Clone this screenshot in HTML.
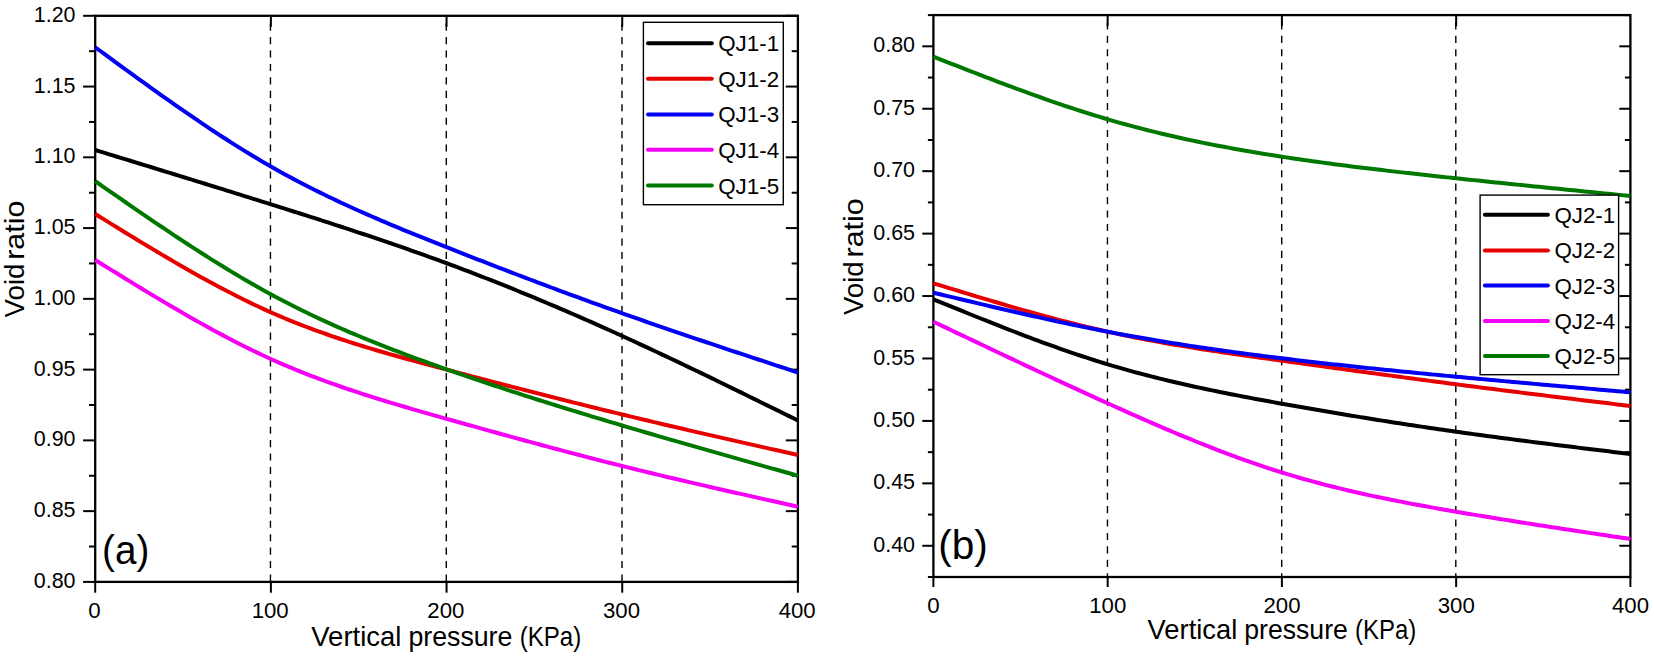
<!DOCTYPE html>
<html lang="en"><head><meta charset="utf-8"><title>Void ratio vs vertical pressure</title>
<style>html,body{margin:0;padding:0;background:#fff;}body{width:1654px;height:660px;overflow:hidden;}svg{display:block;}svg text{font-family:"Liberation Sans", sans-serif;fill:#000;}</style></head><body>
<svg width="1654" height="660" viewBox="0 0 1654 660">
<rect x="0" y="0" width="1654" height="660" fill="#ffffff"/>
<g>
<line x1="270.45" y1="23.6" x2="270.45" y2="581.9" stroke="#000" stroke-width="1.4" stroke-dasharray="7.1 6.335"/>
<line x1="446.3" y1="23.6" x2="446.3" y2="581.9" stroke="#000" stroke-width="1.4" stroke-dasharray="7.1 6.335"/>
<line x1="622" y1="23.6" x2="622" y2="581.9" stroke="#000" stroke-width="1.4" stroke-dasharray="7.1 6.335"/>
<rect x="95.2" y="15.8" width="702.7" height="566.1" fill="none" stroke="#000" stroke-width="2.3"/>
<line x1="83.1" y1="581.9" x2="95.2" y2="581.9" stroke="#000" stroke-width="2"/>
<line x1="785.8" y1="581.9" x2="797.9" y2="581.9" stroke="#000" stroke-width="2"/>
<text x="75.5" y="588" font-size="21.6" text-anchor="end" textLength="41.7" lengthAdjust="spacingAndGlyphs">0.80</text>
<line x1="83.1" y1="511.14" x2="95.2" y2="511.14" stroke="#000" stroke-width="2"/>
<line x1="785.8" y1="511.14" x2="797.9" y2="511.14" stroke="#000" stroke-width="2"/>
<text x="75.5" y="517.24" font-size="21.6" text-anchor="end" textLength="41.7" lengthAdjust="spacingAndGlyphs">0.85</text>
<line x1="83.1" y1="440.38" x2="95.2" y2="440.38" stroke="#000" stroke-width="2"/>
<line x1="785.8" y1="440.38" x2="797.9" y2="440.38" stroke="#000" stroke-width="2"/>
<text x="75.5" y="446.48" font-size="21.6" text-anchor="end" textLength="41.7" lengthAdjust="spacingAndGlyphs">0.90</text>
<line x1="83.1" y1="369.61" x2="95.2" y2="369.61" stroke="#000" stroke-width="2"/>
<line x1="785.8" y1="369.61" x2="797.9" y2="369.61" stroke="#000" stroke-width="2"/>
<text x="75.5" y="375.71" font-size="21.6" text-anchor="end" textLength="41.7" lengthAdjust="spacingAndGlyphs">0.95</text>
<line x1="83.1" y1="298.85" x2="95.2" y2="298.85" stroke="#000" stroke-width="2"/>
<line x1="785.8" y1="298.85" x2="797.9" y2="298.85" stroke="#000" stroke-width="2"/>
<text x="75.5" y="304.95" font-size="21.6" text-anchor="end" textLength="41.7" lengthAdjust="spacingAndGlyphs">1.00</text>
<line x1="83.1" y1="228.09" x2="95.2" y2="228.09" stroke="#000" stroke-width="2"/>
<line x1="785.8" y1="228.09" x2="797.9" y2="228.09" stroke="#000" stroke-width="2"/>
<text x="75.5" y="234.19" font-size="21.6" text-anchor="end" textLength="41.7" lengthAdjust="spacingAndGlyphs">1.05</text>
<line x1="83.1" y1="157.32" x2="95.2" y2="157.32" stroke="#000" stroke-width="2"/>
<line x1="785.8" y1="157.32" x2="797.9" y2="157.32" stroke="#000" stroke-width="2"/>
<text x="75.5" y="163.42" font-size="21.6" text-anchor="end" textLength="41.7" lengthAdjust="spacingAndGlyphs">1.10</text>
<line x1="83.1" y1="86.56" x2="95.2" y2="86.56" stroke="#000" stroke-width="2"/>
<line x1="785.8" y1="86.56" x2="797.9" y2="86.56" stroke="#000" stroke-width="2"/>
<text x="75.5" y="92.66" font-size="21.6" text-anchor="end" textLength="41.7" lengthAdjust="spacingAndGlyphs">1.15</text>
<line x1="83.1" y1="15.8" x2="95.2" y2="15.8" stroke="#000" stroke-width="2"/>
<line x1="785.8" y1="15.8" x2="797.9" y2="15.8" stroke="#000" stroke-width="2"/>
<text x="75.5" y="21.9" font-size="21.6" text-anchor="end" textLength="41.7" lengthAdjust="spacingAndGlyphs">1.20</text>
<line x1="89" y1="546.52" x2="95.2" y2="546.52" stroke="#000" stroke-width="2"/>
<line x1="791.7" y1="546.52" x2="797.9" y2="546.52" stroke="#000" stroke-width="2"/>
<line x1="89" y1="475.76" x2="95.2" y2="475.76" stroke="#000" stroke-width="2"/>
<line x1="791.7" y1="475.76" x2="797.9" y2="475.76" stroke="#000" stroke-width="2"/>
<line x1="89" y1="404.99" x2="95.2" y2="404.99" stroke="#000" stroke-width="2"/>
<line x1="791.7" y1="404.99" x2="797.9" y2="404.99" stroke="#000" stroke-width="2"/>
<line x1="89" y1="334.23" x2="95.2" y2="334.23" stroke="#000" stroke-width="2"/>
<line x1="791.7" y1="334.23" x2="797.9" y2="334.23" stroke="#000" stroke-width="2"/>
<line x1="89" y1="263.47" x2="95.2" y2="263.47" stroke="#000" stroke-width="2"/>
<line x1="791.7" y1="263.47" x2="797.9" y2="263.47" stroke="#000" stroke-width="2"/>
<line x1="89" y1="192.71" x2="95.2" y2="192.71" stroke="#000" stroke-width="2"/>
<line x1="791.7" y1="192.71" x2="797.9" y2="192.71" stroke="#000" stroke-width="2"/>
<line x1="89" y1="121.94" x2="95.2" y2="121.94" stroke="#000" stroke-width="2"/>
<line x1="791.7" y1="121.94" x2="797.9" y2="121.94" stroke="#000" stroke-width="2"/>
<line x1="89" y1="51.18" x2="95.2" y2="51.18" stroke="#000" stroke-width="2"/>
<line x1="791.7" y1="51.18" x2="797.9" y2="51.18" stroke="#000" stroke-width="2"/>
<line x1="95.2" y1="581.9" x2="95.2" y2="592.7" stroke="#000" stroke-width="2"/>
<text x="94.5" y="618.4" font-size="21.6" text-anchor="middle" textLength="12.4" lengthAdjust="spacingAndGlyphs">0</text>
<line x1="270.88" y1="581.9" x2="270.88" y2="592.7" stroke="#000" stroke-width="2"/>
<line x1="270.88" y1="15.8" x2="270.88" y2="26.8" stroke="#000" stroke-width="2"/>
<text x="270.18" y="618.4" font-size="21.6" text-anchor="middle" textLength="37" lengthAdjust="spacingAndGlyphs">100</text>
<line x1="446.55" y1="581.9" x2="446.55" y2="592.7" stroke="#000" stroke-width="2"/>
<line x1="446.55" y1="15.8" x2="446.55" y2="26.8" stroke="#000" stroke-width="2"/>
<text x="445.85" y="618.4" font-size="21.6" text-anchor="middle" textLength="37" lengthAdjust="spacingAndGlyphs">200</text>
<line x1="622.23" y1="581.9" x2="622.23" y2="592.7" stroke="#000" stroke-width="2"/>
<line x1="622.23" y1="15.8" x2="622.23" y2="26.8" stroke="#000" stroke-width="2"/>
<text x="621.52" y="618.4" font-size="21.6" text-anchor="middle" textLength="37" lengthAdjust="spacingAndGlyphs">300</text>
<line x1="797.9" y1="581.9" x2="797.9" y2="592.7" stroke="#000" stroke-width="2"/>
<text x="797.2" y="618.4" font-size="21.6" text-anchor="middle" textLength="37" lengthAdjust="spacingAndGlyphs">400</text>
<polyline fill="none" stroke="#000000" stroke-width="4.0" stroke-linejoin="round" points="95.2,150 99.59,151.35 103.98,152.69 108.38,154.04 112.77,155.39 117.16,156.73 121.55,158.08 125.94,159.43 130.34,160.77 134.73,162.12 139.12,163.47 143.51,164.82 147.9,166.17 152.29,167.52 156.69,168.87 161.08,170.22 165.47,171.57 169.86,172.92 174.25,174.27 178.65,175.63 183.04,176.98 187.43,178.34 191.82,179.69 196.21,181.05 200.6,182.41 205,183.77 209.39,185.13 213.78,186.49 218.17,187.85 222.56,189.21 226.96,190.58 231.35,191.94 235.74,193.31 240.13,194.68 244.52,196.05 248.92,197.42 253.31,198.79 257.7,200.17 262.09,201.54 266.48,202.92 270.88,204.3 275.27,205.68 279.66,207.06 284.05,208.45 288.44,209.84 292.83,211.23 297.23,212.62 301.62,214.01 306.01,215.41 310.4,216.81 314.79,218.22 319.19,219.63 323.58,221.04 327.97,222.46 332.36,223.88 336.75,225.31 341.14,226.74 345.54,228.18 349.93,229.63 354.32,231.07 358.71,232.53 363.1,233.99 367.5,235.46 371.89,236.93 376.28,238.41 380.67,239.9 385.06,241.39 389.46,242.9 393.85,244.41 398.24,245.92 402.63,247.45 407.02,248.98 411.41,250.53 415.81,252.08 420.2,253.64 424.59,255.21 428.98,256.79 433.37,258.37 437.77,259.97 442.16,261.58 446.55,263.2 450.94,264.83 455.33,266.47 459.73,268.12 464.12,269.78 468.51,271.45 472.9,273.13 477.29,274.82 481.69,276.52 486.08,278.24 490.47,279.96 494.86,281.69 499.25,283.43 503.64,285.18 508.04,286.94 512.43,288.71 516.82,290.5 521.21,292.29 525.6,294.09 530,295.89 534.39,297.71 538.78,299.54 543.17,301.38 547.56,303.23 551.96,305.08 556.35,306.95 560.74,308.82 565.13,310.71 569.52,312.6 573.91,314.5 578.31,316.41 582.7,318.33 587.09,320.26 591.48,322.2 595.87,324.14 600.27,326.1 604.66,328.06 609.05,330.03 613.44,332.01 617.83,334 622.23,336 626.62,338.01 631.01,340.02 635.4,342.04 639.79,344.07 644.18,346.11 648.58,348.15 652.97,350.2 657.36,352.26 661.75,354.32 666.14,356.4 670.54,358.47 674.93,360.56 679.32,362.65 683.71,364.74 688.1,366.84 692.5,368.95 696.89,371.06 701.28,373.17 705.67,375.29 710.06,377.42 714.45,379.54 718.85,381.68 723.24,383.81 727.63,385.95 732.02,388.1 736.41,390.24 740.81,392.39 745.2,394.54 749.59,396.7 753.98,398.85 758.37,401.01 762.76,403.17 767.16,405.34 771.55,407.5 775.94,409.66 780.33,411.83 784.72,414 789.12,416.16 793.51,418.33 797.9,420.5"/>
<polyline fill="none" stroke="#e60000" stroke-width="4.0" stroke-linejoin="round" points="95.2,214 99.59,216.71 103.98,219.42 108.38,222.13 112.77,224.84 117.16,227.54 121.55,230.24 125.94,232.93 130.34,235.61 134.73,238.29 139.12,240.96 143.51,243.62 147.9,246.27 152.29,248.91 156.69,251.53 161.08,254.14 165.47,256.74 169.86,259.32 174.25,261.89 178.65,264.44 183.04,266.97 187.43,269.48 191.82,271.97 196.21,274.44 200.6,276.89 205,279.31 209.39,281.71 213.78,284.09 218.17,286.44 222.56,288.77 226.96,291.06 231.35,293.33 235.74,295.57 240.13,297.78 244.52,299.96 248.92,302.1 253.31,304.21 257.7,306.29 262.09,308.33 266.48,310.33 270.88,312.3 275.27,314.23 279.66,316.12 284.05,317.98 288.44,319.8 292.83,321.59 297.23,323.34 301.62,325.06 306.01,326.75 310.4,328.41 314.79,330.03 319.19,331.63 323.58,333.2 327.97,334.75 332.36,336.27 336.75,337.76 341.14,339.23 345.54,340.67 349.93,342.1 354.32,343.5 358.71,344.88 363.1,346.24 367.5,347.58 371.89,348.91 376.28,350.21 380.67,351.51 385.06,352.78 389.46,354.05 393.85,355.29 398.24,356.53 402.63,357.76 407.02,358.97 411.41,360.18 415.81,361.38 420.2,362.57 424.59,363.75 428.98,364.93 433.37,366.1 437.77,367.27 442.16,368.44 446.55,369.6 450.94,370.76 455.33,371.92 459.73,373.08 464.12,374.24 468.51,375.4 472.9,376.56 477.29,377.71 481.69,378.86 486.08,380.01 490.47,381.16 494.86,382.31 499.25,383.46 503.64,384.6 508.04,385.74 512.43,386.88 516.82,388.02 521.21,389.15 525.6,390.29 530,391.42 534.39,392.55 538.78,393.67 543.17,394.8 547.56,395.92 551.96,397.03 556.35,398.15 560.74,399.26 565.13,400.37 569.52,401.48 573.91,402.58 578.31,403.68 582.7,404.78 587.09,405.87 591.48,406.96 595.87,408.05 600.27,409.13 604.66,410.21 609.05,411.29 613.44,412.36 617.83,413.43 622.23,414.5 626.62,415.56 631.01,416.62 635.4,417.67 639.79,418.73 644.18,419.77 648.58,420.82 652.97,421.86 657.36,422.9 661.75,423.93 666.14,424.96 670.54,425.99 674.93,427.02 679.32,428.04 683.71,429.06 688.1,430.08 692.5,431.09 696.89,432.11 701.28,433.12 705.67,434.13 710.06,435.13 714.45,436.14 718.85,437.14 723.24,438.14 727.63,439.14 732.02,440.14 736.41,441.14 740.81,442.14 745.2,443.13 749.59,444.12 753.98,445.12 758.37,446.11 762.76,447.1 767.16,448.09 771.55,449.08 775.94,450.06 780.33,451.05 784.72,452.04 789.12,453.03 793.51,454.01 797.9,455"/>
<polyline fill="none" stroke="#0000f5" stroke-width="4.0" stroke-linejoin="round" points="95.2,47.3 99.59,50.51 103.98,53.73 108.38,56.94 112.77,60.15 117.16,63.36 121.55,66.56 125.94,69.75 130.34,72.94 134.73,76.13 139.12,79.3 143.51,82.47 147.9,85.62 152.29,88.77 156.69,91.9 161.08,95.03 165.47,98.14 169.86,101.23 174.25,104.31 178.65,107.37 183.04,110.42 187.43,113.45 191.82,116.46 196.21,119.46 200.6,122.43 205,125.38 209.39,128.31 213.78,131.21 218.17,134.09 222.56,136.95 226.96,139.78 231.35,142.59 235.74,145.37 240.13,148.11 244.52,150.84 248.92,153.53 253.31,156.19 257.7,158.81 262.09,161.41 266.48,163.97 270.88,166.5 275.27,168.99 279.66,171.45 284.05,173.88 288.44,176.27 292.83,178.63 297.23,180.96 301.62,183.25 306.01,185.52 310.4,187.76 314.79,189.97 319.19,192.16 323.58,194.32 327.97,196.45 332.36,198.56 336.75,200.64 341.14,202.7 345.54,204.74 349.93,206.75 354.32,208.75 358.71,210.72 363.1,212.68 367.5,214.61 371.89,216.53 376.28,218.43 380.67,220.32 385.06,222.19 389.46,224.04 393.85,225.89 398.24,227.71 402.63,229.53 407.02,231.34 411.41,233.13 415.81,234.92 420.2,236.69 424.59,238.46 428.98,240.22 433.37,241.97 437.77,243.72 442.16,245.46 446.55,247.2 450.94,248.93 455.33,250.67 459.73,252.39 464.12,254.12 468.51,255.84 472.9,257.55 477.29,259.27 481.69,260.97 486.08,262.68 490.47,264.38 494.86,266.08 499.25,267.77 503.64,269.46 508.04,271.14 512.43,272.82 516.82,274.5 521.21,276.17 525.6,277.84 530,279.5 534.39,281.16 538.78,282.81 543.17,284.46 547.56,286.11 551.96,287.75 556.35,289.38 560.74,291.01 565.13,292.64 569.52,294.26 573.91,295.87 578.31,297.48 582.7,299.09 587.09,300.69 591.48,302.28 595.87,303.87 600.27,305.46 604.66,307.04 609.05,308.61 613.44,310.18 617.83,311.74 622.23,313.3 626.62,314.85 631.01,316.4 635.4,317.94 639.79,319.48 644.18,321.01 648.58,322.53 652.97,324.05 657.36,325.57 661.75,327.08 666.14,328.59 670.54,330.09 674.93,331.59 679.32,333.09 683.71,334.58 688.1,336.07 692.5,337.55 696.89,339.03 701.28,340.51 705.67,341.99 710.06,343.46 714.45,344.93 718.85,346.4 723.24,347.86 727.63,349.32 732.02,350.78 736.41,352.24 740.81,353.69 745.2,355.15 749.59,356.6 753.98,358.05 758.37,359.5 762.76,360.95 767.16,362.39 771.55,363.84 775.94,365.28 780.33,366.73 784.72,368.17 789.12,369.61 793.51,371.06 797.9,372.5"/>
<polyline fill="none" stroke="#f500f5" stroke-width="4.0" stroke-linejoin="round" points="95.2,260 99.59,262.72 103.98,265.43 108.38,268.15 112.77,270.86 117.16,273.57 121.55,276.27 125.94,278.97 130.34,281.67 134.73,284.35 139.12,287.03 143.51,289.69 147.9,292.35 152.29,295 156.69,297.63 161.08,300.26 165.47,302.86 169.86,305.46 174.25,308.04 178.65,310.6 183.04,313.14 187.43,315.67 191.82,318.18 196.21,320.66 200.6,323.13 205,325.58 209.39,328 213.78,330.4 218.17,332.77 222.56,335.12 226.96,337.44 231.35,339.73 235.74,342 240.13,344.24 244.52,346.44 248.92,348.62 253.31,350.76 257.7,352.87 262.09,354.95 266.48,356.99 270.88,359 275.27,360.97 279.66,362.91 284.05,364.81 288.44,366.67 292.83,368.51 297.23,370.31 301.62,372.08 306.01,373.82 310.4,375.53 314.79,377.22 319.19,378.87 323.58,380.5 327.97,382.1 332.36,383.68 336.75,385.23 341.14,386.76 345.54,388.27 349.93,389.76 354.32,391.22 358.71,392.67 363.1,394.1 367.5,395.51 371.89,396.9 376.28,398.27 380.67,399.63 385.06,400.98 389.46,402.31 393.85,403.63 398.24,404.94 402.63,406.24 407.02,407.52 411.41,408.8 415.81,410.07 420.2,411.33 424.59,412.59 428.98,413.84 433.37,415.08 437.77,416.33 442.16,417.56 446.55,418.8 450.94,420.03 455.33,421.27 459.73,422.5 464.12,423.73 468.51,424.96 472.9,426.19 477.29,427.41 481.69,428.63 486.08,429.85 490.47,431.07 494.86,432.29 499.25,433.5 503.64,434.71 508.04,435.92 512.43,437.12 516.82,438.33 521.21,439.53 525.6,440.72 530,441.91 534.39,443.1 538.78,444.29 543.17,445.47 547.56,446.65 551.96,447.82 556.35,449 560.74,450.16 565.13,451.32 569.52,452.48 573.91,453.64 578.31,454.78 582.7,455.93 587.09,457.07 591.48,458.2 595.87,459.33 600.27,460.46 604.66,461.58 609.05,462.69 613.44,463.8 617.83,464.9 622.23,466 626.62,467.09 631.01,468.18 635.4,469.26 639.79,470.33 644.18,471.4 648.58,472.47 652.97,473.53 657.36,474.58 661.75,475.63 666.14,476.68 670.54,477.72 674.93,478.76 679.32,479.79 683.71,480.82 688.1,481.85 692.5,482.87 696.89,483.89 701.28,484.91 705.67,485.92 710.06,486.93 714.45,487.93 718.85,488.94 723.24,489.94 727.63,490.94 732.02,491.93 736.41,492.93 740.81,493.92 745.2,494.91 749.59,495.9 753.98,496.89 758.37,497.87 762.76,498.86 767.16,499.84 771.55,500.82 775.94,501.8 780.33,502.78 784.72,503.76 789.12,504.74 793.51,505.72 797.9,506.7"/>
<polyline fill="none" stroke="#007800" stroke-width="4.0" stroke-linejoin="round" points="95.2,181.2 99.59,184.25 103.98,187.3 108.38,190.35 112.77,193.4 117.16,196.44 121.55,199.48 125.94,202.51 130.34,205.54 134.73,208.56 139.12,211.58 143.51,214.58 147.9,217.58 152.29,220.56 156.69,223.54 161.08,226.5 165.47,229.45 169.86,232.39 174.25,235.31 178.65,238.22 183.04,241.11 187.43,243.99 191.82,246.85 196.21,249.68 200.6,252.5 205,255.3 209.39,258.08 213.78,260.84 218.17,263.57 222.56,266.28 226.96,268.97 231.35,271.63 235.74,274.26 240.13,276.87 244.52,279.45 248.92,282 253.31,284.52 257.7,287.02 262.09,289.48 266.48,291.9 270.88,294.3 275.27,296.66 279.66,298.99 284.05,301.29 288.44,303.55 292.83,305.79 297.23,307.99 301.62,310.17 306.01,312.31 310.4,314.43 314.79,316.51 319.19,318.57 323.58,320.61 327.97,322.62 332.36,324.6 336.75,326.56 341.14,328.49 345.54,330.4 349.93,332.29 354.32,334.15 358.71,336 363.1,337.82 367.5,339.62 371.89,341.4 376.28,343.17 380.67,344.91 385.06,346.64 389.46,348.35 393.85,350.04 398.24,351.72 402.63,353.38 407.02,355.03 411.41,356.66 415.81,358.28 420.2,359.89 424.59,361.48 428.98,363.07 433.37,364.64 437.77,366.2 442.16,367.76 446.55,369.3 450.94,370.84 455.33,372.36 459.73,373.88 464.12,375.39 468.51,376.9 472.9,378.39 477.29,379.88 481.69,381.36 486.08,382.83 490.47,384.3 494.86,385.76 499.25,387.21 503.64,388.66 508.04,390.09 512.43,391.53 516.82,392.95 521.21,394.37 525.6,395.78 530,397.19 534.39,398.59 538.78,399.98 543.17,401.37 547.56,402.75 551.96,404.13 556.35,405.5 560.74,406.87 565.13,408.23 569.52,409.58 573.91,410.93 578.31,412.28 582.7,413.62 587.09,414.96 591.48,416.29 595.87,417.62 600.27,418.94 604.66,420.26 609.05,421.58 613.44,422.89 617.83,424.2 622.23,425.5 626.62,426.8 631.01,428.1 635.4,429.39 639.79,430.68 644.18,431.97 648.58,433.25 652.97,434.53 657.36,435.81 661.75,437.09 666.14,438.36 670.54,439.63 674.93,440.9 679.32,442.16 683.71,443.42 688.1,444.68 692.5,445.94 696.89,447.2 701.28,448.45 705.67,449.7 710.06,450.95 714.45,452.2 718.85,453.45 723.24,454.69 727.63,455.94 732.02,457.18 736.41,458.42 740.81,459.66 745.2,460.9 749.59,462.14 753.98,463.37 758.37,464.61 762.76,465.84 767.16,467.08 771.55,468.31 775.94,469.54 780.33,470.77 784.72,472.01 789.12,473.24 793.51,474.47 797.9,475.7"/>
<rect x="643.4" y="22.3" width="139.9" height="182.4" fill="#ffffff" stroke="#000" stroke-width="1.4"/>
<line x1="648" y1="43.2" x2="711.8" y2="43.2" stroke="#000000" stroke-width="4.0" stroke-linecap="round"/>
<text x="718.2" y="51.2" font-size="21.4" textLength="61" lengthAdjust="spacingAndGlyphs">QJ1-1</text>
<line x1="648" y1="78.7" x2="711.8" y2="78.7" stroke="#e60000" stroke-width="4.0" stroke-linecap="round"/>
<text x="718.2" y="86.7" font-size="21.4" textLength="61" lengthAdjust="spacingAndGlyphs">QJ1-2</text>
<line x1="648" y1="114.4" x2="711.8" y2="114.4" stroke="#0000f5" stroke-width="4.0" stroke-linecap="round"/>
<text x="718.2" y="122.4" font-size="21.4" textLength="61" lengthAdjust="spacingAndGlyphs">QJ1-3</text>
<line x1="648" y1="149.8" x2="711.8" y2="149.8" stroke="#f500f5" stroke-width="4.0" stroke-linecap="round"/>
<text x="718.2" y="157.8" font-size="21.4" textLength="61" lengthAdjust="spacingAndGlyphs">QJ1-4</text>
<line x1="648" y1="185.6" x2="711.8" y2="185.6" stroke="#007800" stroke-width="4.0" stroke-linecap="round"/>
<text x="718.2" y="193.6" font-size="21.4" textLength="61" lengthAdjust="spacingAndGlyphs">QJ1-5</text>
<text y="645.9" font-size="27.2"><tspan x="311.3" textLength="90.1" lengthAdjust="spacingAndGlyphs">Vertical</tspan> <tspan x="408.4" textLength="104" lengthAdjust="spacingAndGlyphs">pressure</tspan> <tspan x="519.7" textLength="61.5" lengthAdjust="spacingAndGlyphs">(KPa)</tspan></text>
<text transform="translate(24.2 317.1) rotate(-90)" y="0" font-size="27.2"><tspan x="-0.3" textLength="53.8" lengthAdjust="spacingAndGlyphs">Void</tspan> <tspan x="57.3" textLength="59.2" lengthAdjust="spacingAndGlyphs">ratio</tspan></text>
<text x="102" y="564.4" font-size="40.5" textLength="47.3" lengthAdjust="spacingAndGlyphs">(a)</text>
</g>
<g>
<line x1="1107.45" y1="22.4" x2="1107.45" y2="577" stroke="#000" stroke-width="1.4" stroke-dasharray="7.1 6.335"/>
<line x1="1281.7" y1="22.4" x2="1281.7" y2="577" stroke="#000" stroke-width="1.4" stroke-dasharray="7.1 6.335"/>
<line x1="1455.8" y1="22.4" x2="1455.8" y2="577" stroke="#000" stroke-width="1.4" stroke-dasharray="7.1 6.335"/>
<rect x="933.4" y="15.1" width="697" height="561.9" fill="none" stroke="#000" stroke-width="2.3"/>
<line x1="922.3" y1="545.78" x2="933.4" y2="545.78" stroke="#000" stroke-width="2"/>
<line x1="1619.3" y1="545.78" x2="1630.4" y2="545.78" stroke="#000" stroke-width="2"/>
<text x="915" y="551.88" font-size="21.6" text-anchor="end" textLength="41.7" lengthAdjust="spacingAndGlyphs">0.40</text>
<line x1="922.3" y1="483.35" x2="933.4" y2="483.35" stroke="#000" stroke-width="2"/>
<line x1="1619.3" y1="483.35" x2="1630.4" y2="483.35" stroke="#000" stroke-width="2"/>
<text x="915" y="489.45" font-size="21.6" text-anchor="end" textLength="41.7" lengthAdjust="spacingAndGlyphs">0.45</text>
<line x1="922.3" y1="420.92" x2="933.4" y2="420.92" stroke="#000" stroke-width="2"/>
<line x1="1619.3" y1="420.92" x2="1630.4" y2="420.92" stroke="#000" stroke-width="2"/>
<text x="915" y="427.02" font-size="21.6" text-anchor="end" textLength="41.7" lengthAdjust="spacingAndGlyphs">0.50</text>
<line x1="922.3" y1="358.48" x2="933.4" y2="358.48" stroke="#000" stroke-width="2"/>
<line x1="1619.3" y1="358.48" x2="1630.4" y2="358.48" stroke="#000" stroke-width="2"/>
<text x="915" y="364.58" font-size="21.6" text-anchor="end" textLength="41.7" lengthAdjust="spacingAndGlyphs">0.55</text>
<line x1="922.3" y1="296.05" x2="933.4" y2="296.05" stroke="#000" stroke-width="2"/>
<line x1="1619.3" y1="296.05" x2="1630.4" y2="296.05" stroke="#000" stroke-width="2"/>
<text x="915" y="302.15" font-size="21.6" text-anchor="end" textLength="41.7" lengthAdjust="spacingAndGlyphs">0.60</text>
<line x1="922.3" y1="233.62" x2="933.4" y2="233.62" stroke="#000" stroke-width="2"/>
<line x1="1619.3" y1="233.62" x2="1630.4" y2="233.62" stroke="#000" stroke-width="2"/>
<text x="915" y="239.72" font-size="21.6" text-anchor="end" textLength="41.7" lengthAdjust="spacingAndGlyphs">0.65</text>
<line x1="922.3" y1="171.18" x2="933.4" y2="171.18" stroke="#000" stroke-width="2"/>
<line x1="1619.3" y1="171.18" x2="1630.4" y2="171.18" stroke="#000" stroke-width="2"/>
<text x="915" y="177.28" font-size="21.6" text-anchor="end" textLength="41.7" lengthAdjust="spacingAndGlyphs">0.70</text>
<line x1="922.3" y1="108.75" x2="933.4" y2="108.75" stroke="#000" stroke-width="2"/>
<line x1="1619.3" y1="108.75" x2="1630.4" y2="108.75" stroke="#000" stroke-width="2"/>
<text x="915" y="114.85" font-size="21.6" text-anchor="end" textLength="41.7" lengthAdjust="spacingAndGlyphs">0.75</text>
<line x1="922.3" y1="46.32" x2="933.4" y2="46.32" stroke="#000" stroke-width="2"/>
<line x1="1619.3" y1="46.32" x2="1630.4" y2="46.32" stroke="#000" stroke-width="2"/>
<text x="915" y="52.42" font-size="21.6" text-anchor="end" textLength="41.7" lengthAdjust="spacingAndGlyphs">0.80</text>
<line x1="927.9" y1="577" x2="933.4" y2="577" stroke="#000" stroke-width="2"/>
<line x1="1624.9" y1="577" x2="1630.4" y2="577" stroke="#000" stroke-width="2"/>
<line x1="927.9" y1="514.57" x2="933.4" y2="514.57" stroke="#000" stroke-width="2"/>
<line x1="1624.9" y1="514.57" x2="1630.4" y2="514.57" stroke="#000" stroke-width="2"/>
<line x1="927.9" y1="452.13" x2="933.4" y2="452.13" stroke="#000" stroke-width="2"/>
<line x1="1624.9" y1="452.13" x2="1630.4" y2="452.13" stroke="#000" stroke-width="2"/>
<line x1="927.9" y1="389.7" x2="933.4" y2="389.7" stroke="#000" stroke-width="2"/>
<line x1="1624.9" y1="389.7" x2="1630.4" y2="389.7" stroke="#000" stroke-width="2"/>
<line x1="927.9" y1="327.27" x2="933.4" y2="327.27" stroke="#000" stroke-width="2"/>
<line x1="1624.9" y1="327.27" x2="1630.4" y2="327.27" stroke="#000" stroke-width="2"/>
<line x1="927.9" y1="264.83" x2="933.4" y2="264.83" stroke="#000" stroke-width="2"/>
<line x1="1624.9" y1="264.83" x2="1630.4" y2="264.83" stroke="#000" stroke-width="2"/>
<line x1="927.9" y1="202.4" x2="933.4" y2="202.4" stroke="#000" stroke-width="2"/>
<line x1="1624.9" y1="202.4" x2="1630.4" y2="202.4" stroke="#000" stroke-width="2"/>
<line x1="927.9" y1="139.97" x2="933.4" y2="139.97" stroke="#000" stroke-width="2"/>
<line x1="1624.9" y1="139.97" x2="1630.4" y2="139.97" stroke="#000" stroke-width="2"/>
<line x1="927.9" y1="77.53" x2="933.4" y2="77.53" stroke="#000" stroke-width="2"/>
<line x1="1624.9" y1="77.53" x2="1630.4" y2="77.53" stroke="#000" stroke-width="2"/>
<line x1="927.9" y1="15.1" x2="933.4" y2="15.1" stroke="#000" stroke-width="2"/>
<line x1="1624.9" y1="15.1" x2="1630.4" y2="15.1" stroke="#000" stroke-width="2"/>
<line x1="933.4" y1="577" x2="933.4" y2="587" stroke="#000" stroke-width="2"/>
<text x="933.5" y="612.9" font-size="21.6" text-anchor="middle" textLength="12.4" lengthAdjust="spacingAndGlyphs">0</text>
<line x1="1107.65" y1="577" x2="1107.65" y2="587" stroke="#000" stroke-width="2"/>
<line x1="1107.65" y1="15.1" x2="1107.65" y2="26.1" stroke="#000" stroke-width="2"/>
<text x="1107.75" y="612.9" font-size="21.6" text-anchor="middle" textLength="37" lengthAdjust="spacingAndGlyphs">100</text>
<line x1="1281.9" y1="577" x2="1281.9" y2="587" stroke="#000" stroke-width="2"/>
<line x1="1281.9" y1="15.1" x2="1281.9" y2="26.1" stroke="#000" stroke-width="2"/>
<text x="1282" y="612.9" font-size="21.6" text-anchor="middle" textLength="37" lengthAdjust="spacingAndGlyphs">200</text>
<line x1="1456.15" y1="577" x2="1456.15" y2="587" stroke="#000" stroke-width="2"/>
<line x1="1456.15" y1="15.1" x2="1456.15" y2="26.1" stroke="#000" stroke-width="2"/>
<text x="1456.25" y="612.9" font-size="21.6" text-anchor="middle" textLength="37" lengthAdjust="spacingAndGlyphs">300</text>
<line x1="1630.4" y1="577" x2="1630.4" y2="587" stroke="#000" stroke-width="2"/>
<text x="1630.5" y="612.9" font-size="21.6" text-anchor="middle" textLength="37" lengthAdjust="spacingAndGlyphs">400</text>
<polyline fill="none" stroke="#000000" stroke-width="4.0" stroke-linejoin="round" points="933.4,299.3 937.76,301.08 942.11,302.86 946.47,304.63 950.82,306.41 955.18,308.18 959.54,309.95 963.89,311.72 968.25,313.48 972.61,315.24 976.96,316.99 981.32,318.74 985.67,320.48 990.03,322.21 994.39,323.94 998.74,325.66 1003.1,327.36 1007.46,329.06 1011.81,330.76 1016.17,332.44 1020.52,334.1 1024.88,335.76 1029.24,337.41 1033.59,339.04 1037.95,340.66 1042.31,342.27 1046.66,343.86 1051.02,345.43 1055.38,346.99 1059.73,348.54 1064.09,350.07 1068.44,351.58 1072.8,353.07 1077.16,354.54 1081.51,356 1085.87,357.44 1090.22,358.85 1094.58,360.25 1098.94,361.62 1103.29,362.97 1107.65,364.3 1112.01,365.61 1116.36,366.89 1120.72,368.15 1125.08,369.39 1129.43,370.61 1133.79,371.81 1138.14,372.99 1142.5,374.15 1146.86,375.29 1151.21,376.41 1155.57,377.51 1159.92,378.59 1164.28,379.66 1168.64,380.71 1172.99,381.74 1177.35,382.76 1181.71,383.77 1186.06,384.75 1190.42,385.73 1194.78,386.69 1199.13,387.63 1203.49,388.57 1207.84,389.49 1212.2,390.4 1216.56,391.29 1220.91,392.18 1225.27,393.06 1229.62,393.92 1233.98,394.78 1238.34,395.63 1242.69,396.46 1247.05,397.29 1251.41,398.12 1255.76,398.93 1260.12,399.74 1264.47,400.54 1268.83,401.34 1273.19,402.13 1277.54,402.92 1281.9,403.7 1286.26,404.48 1290.61,405.25 1294.97,406.02 1299.33,406.79 1303.68,407.55 1308.04,408.31 1312.39,409.07 1316.75,409.82 1321.11,410.57 1325.46,411.31 1329.82,412.05 1334.17,412.78 1338.53,413.52 1342.89,414.24 1347.24,414.97 1351.6,415.69 1355.96,416.4 1360.31,417.11 1364.67,417.82 1369.03,418.52 1373.38,419.22 1377.74,419.92 1382.09,420.61 1386.45,421.29 1390.81,421.97 1395.16,422.65 1399.52,423.33 1403.88,424 1408.23,424.66 1412.59,425.32 1416.94,425.98 1421.3,426.63 1425.66,427.28 1430.01,427.93 1434.37,428.57 1438.72,429.2 1443.08,429.83 1447.44,430.46 1451.79,431.08 1456.15,431.7 1460.51,432.31 1464.86,432.92 1469.22,433.53 1473.58,434.13 1477.93,434.73 1482.29,435.32 1486.64,435.91 1491,436.5 1495.36,437.08 1499.71,437.66 1504.07,438.23 1508.43,438.81 1512.78,439.38 1517.14,439.94 1521.49,440.51 1525.85,441.07 1530.21,441.63 1534.56,442.18 1538.92,442.74 1543.28,443.29 1547.63,443.84 1551.99,444.38 1556.34,444.93 1560.7,445.47 1565.06,446.01 1569.41,446.55 1573.77,447.09 1578.12,447.63 1582.48,448.16 1586.84,448.7 1591.19,449.23 1595.55,449.76 1599.91,450.3 1604.26,450.83 1608.62,451.36 1612.97,451.89 1617.33,452.41 1621.69,452.94 1626.04,453.47 1630.4,454"/>
<polyline fill="none" stroke="#e60000" stroke-width="4.0" stroke-linejoin="round" points="933.4,283.3 937.76,284.63 942.11,285.96 946.47,287.29 950.82,288.62 955.18,289.95 959.54,291.27 963.89,292.59 968.25,293.91 972.61,295.22 976.96,296.54 981.32,297.84 985.67,299.14 990.03,300.44 994.39,301.73 998.74,303.01 1003.1,304.29 1007.46,305.56 1011.81,306.82 1016.17,308.07 1020.52,309.32 1024.88,310.55 1029.24,311.78 1033.59,312.99 1037.95,314.2 1042.31,315.4 1046.66,316.58 1051.02,317.75 1055.38,318.91 1059.73,320.06 1064.09,321.19 1068.44,322.31 1072.8,323.42 1077.16,324.51 1081.51,325.58 1085.87,326.64 1090.22,327.69 1094.58,328.72 1098.94,329.73 1103.29,330.72 1107.65,331.7 1112.01,332.66 1116.36,333.6 1120.72,334.52 1125.08,335.43 1129.43,336.32 1133.79,337.2 1138.14,338.06 1142.5,338.9 1146.86,339.73 1151.21,340.54 1155.57,341.35 1159.92,342.14 1164.28,342.91 1168.64,343.68 1172.99,344.43 1177.35,345.17 1181.71,345.9 1186.06,346.62 1190.42,347.33 1194.78,348.02 1199.13,348.72 1203.49,349.4 1207.84,350.07 1212.2,350.74 1216.56,351.39 1220.91,352.05 1225.27,352.69 1229.62,353.33 1233.98,353.96 1238.34,354.59 1242.69,355.22 1247.05,355.84 1251.41,356.45 1255.76,357.07 1260.12,357.68 1264.47,358.28 1268.83,358.89 1273.19,359.49 1277.54,360.1 1281.9,360.7 1286.26,361.3 1290.61,361.91 1294.97,362.51 1299.33,363.11 1303.68,363.71 1308.04,364.31 1312.39,364.92 1316.75,365.52 1321.11,366.12 1325.46,366.72 1329.82,367.32 1334.17,367.92 1338.53,368.51 1342.89,369.11 1347.24,369.71 1351.6,370.31 1355.96,370.9 1360.31,371.5 1364.67,372.09 1369.03,372.68 1373.38,373.28 1377.74,373.87 1382.09,374.46 1386.45,375.05 1390.81,375.64 1395.16,376.22 1399.52,376.81 1403.88,377.39 1408.23,377.98 1412.59,378.56 1416.94,379.14 1421.3,379.72 1425.66,380.3 1430.01,380.87 1434.37,381.45 1438.72,382.02 1443.08,382.59 1447.44,383.16 1451.79,383.73 1456.15,384.3 1460.51,384.87 1464.86,385.43 1469.22,385.99 1473.58,386.55 1477.93,387.11 1482.29,387.67 1486.64,388.22 1491,388.78 1495.36,389.33 1499.71,389.88 1504.07,390.43 1508.43,390.98 1512.78,391.53 1517.14,392.07 1521.49,392.62 1525.85,393.16 1530.21,393.7 1534.56,394.25 1538.92,394.79 1543.28,395.33 1547.63,395.87 1551.99,396.4 1556.34,396.94 1560.7,397.48 1565.06,398.01 1569.41,398.55 1573.77,399.08 1578.12,399.62 1582.48,400.15 1586.84,400.69 1591.19,401.22 1595.55,401.75 1599.91,402.28 1604.26,402.81 1608.62,403.35 1612.97,403.88 1617.33,404.41 1621.69,404.94 1626.04,405.47 1630.4,406"/>
<polyline fill="none" stroke="#0000f5" stroke-width="4.0" stroke-linejoin="round" points="933.4,292.7 937.76,293.74 942.11,294.79 946.47,295.83 950.82,296.88 955.18,297.92 959.54,298.96 963.89,300 968.25,301.03 972.61,302.07 976.96,303.1 981.32,304.13 985.67,305.16 990.03,306.18 994.39,307.21 998.74,308.22 1003.1,309.24 1007.46,310.25 1011.81,311.25 1016.17,312.25 1020.52,313.24 1024.88,314.23 1029.24,315.22 1033.59,316.2 1037.95,317.17 1042.31,318.14 1046.66,319.1 1051.02,320.05 1055.38,320.99 1059.73,321.93 1064.09,322.86 1068.44,323.79 1072.8,324.7 1077.16,325.61 1081.51,326.51 1085.87,327.4 1090.22,328.28 1094.58,329.15 1098.94,330.01 1103.29,330.86 1107.65,331.7 1112.01,332.53 1116.36,333.35 1120.72,334.16 1125.08,334.96 1129.43,335.75 1133.79,336.53 1138.14,337.3 1142.5,338.06 1146.86,338.82 1151.21,339.56 1155.57,340.29 1159.92,341.02 1164.28,341.73 1168.64,342.44 1172.99,343.14 1177.35,343.83 1181.71,344.51 1186.06,345.19 1190.42,345.86 1194.78,346.52 1199.13,347.17 1203.49,347.81 1207.84,348.45 1212.2,349.08 1216.56,349.7 1220.91,350.32 1225.27,350.93 1229.62,351.53 1233.98,352.13 1238.34,352.72 1242.69,353.3 1247.05,353.88 1251.41,354.45 1255.76,355.01 1260.12,355.58 1264.47,356.13 1268.83,356.68 1273.19,357.23 1277.54,357.77 1281.9,358.3 1286.26,358.83 1290.61,359.36 1294.97,359.88 1299.33,360.39 1303.68,360.91 1308.04,361.41 1312.39,361.92 1316.75,362.42 1321.11,362.91 1325.46,363.4 1329.82,363.89 1334.17,364.37 1338.53,364.85 1342.89,365.33 1347.24,365.8 1351.6,366.27 1355.96,366.74 1360.31,367.2 1364.67,367.66 1369.03,368.12 1373.38,368.57 1377.74,369.02 1382.09,369.47 1386.45,369.91 1390.81,370.35 1395.16,370.79 1399.52,371.23 1403.88,371.66 1408.23,372.09 1412.59,372.52 1416.94,372.95 1421.3,373.37 1425.66,373.79 1430.01,374.22 1434.37,374.63 1438.72,375.05 1443.08,375.47 1447.44,375.88 1451.79,376.29 1456.15,376.7 1460.51,377.11 1464.86,377.52 1469.22,377.92 1473.58,378.33 1477.93,378.73 1482.29,379.13 1486.64,379.53 1491,379.93 1495.36,380.33 1499.71,380.73 1504.07,381.12 1508.43,381.52 1512.78,381.91 1517.14,382.3 1521.49,382.7 1525.85,383.09 1530.21,383.48 1534.56,383.87 1538.92,384.26 1543.28,384.64 1547.63,385.03 1551.99,385.42 1556.34,385.8 1560.7,386.19 1565.06,386.57 1569.41,386.96 1573.77,387.34 1578.12,387.73 1582.48,388.11 1586.84,388.49 1591.19,388.87 1595.55,389.25 1599.91,389.64 1604.26,390.02 1608.62,390.4 1612.97,390.78 1617.33,391.16 1621.69,391.54 1626.04,391.92 1630.4,392.3"/>
<polyline fill="none" stroke="#f500f5" stroke-width="4.0" stroke-linejoin="round" points="933.4,321.7 937.76,323.77 942.11,325.85 946.47,327.92 950.82,330 955.18,332.07 959.54,334.14 963.89,336.22 968.25,338.29 972.61,340.36 976.96,342.43 981.32,344.49 985.67,346.56 990.03,348.62 994.39,350.69 998.74,352.75 1003.1,354.81 1007.46,356.86 1011.81,358.92 1016.17,360.97 1020.52,363.02 1024.88,365.07 1029.24,367.11 1033.59,369.16 1037.95,371.19 1042.31,373.23 1046.66,375.26 1051.02,377.29 1055.38,379.32 1059.73,381.34 1064.09,383.36 1068.44,385.37 1072.8,387.38 1077.16,389.39 1081.51,391.39 1085.87,393.39 1090.22,395.38 1094.58,397.37 1098.94,399.35 1103.29,401.33 1107.65,403.3 1112.01,405.27 1116.36,407.23 1120.72,409.19 1125.08,411.13 1129.43,413.08 1133.79,415.01 1138.14,416.94 1142.5,418.85 1146.86,420.76 1151.21,422.66 1155.57,424.55 1159.92,426.42 1164.28,428.29 1168.64,430.14 1172.99,431.98 1177.35,433.81 1181.71,435.63 1186.06,437.43 1190.42,439.21 1194.78,440.99 1199.13,442.74 1203.49,444.48 1207.84,446.21 1212.2,447.91 1216.56,449.6 1220.91,451.27 1225.27,452.93 1229.62,454.56 1233.98,456.17 1238.34,457.77 1242.69,459.34 1247.05,460.9 1251.41,462.43 1255.76,463.94 1260.12,465.42 1264.47,466.89 1268.83,468.33 1273.19,469.74 1277.54,471.13 1281.9,472.5 1286.26,473.84 1290.61,475.16 1294.97,476.45 1299.33,477.71 1303.68,478.96 1308.04,480.18 1312.39,481.38 1316.75,482.55 1321.11,483.71 1325.46,484.84 1329.82,485.95 1334.17,487.05 1338.53,488.12 1342.89,489.17 1347.24,490.21 1351.6,491.23 1355.96,492.23 1360.31,493.22 1364.67,494.19 1369.03,495.14 1373.38,496.08 1377.74,497 1382.09,497.91 1386.45,498.8 1390.81,499.69 1395.16,500.55 1399.52,501.41 1403.88,502.26 1408.23,503.09 1412.59,503.92 1416.94,504.73 1421.3,505.54 1425.66,506.33 1430.01,507.12 1434.37,507.9 1438.72,508.67 1443.08,509.44 1447.44,510.2 1451.79,510.95 1456.15,511.7 1460.51,512.44 1464.86,513.18 1469.22,513.92 1473.58,514.65 1477.93,515.37 1482.29,516.09 1486.64,516.81 1491,517.52 1495.36,518.23 1499.71,518.94 1504.07,519.64 1508.43,520.34 1512.78,521.04 1517.14,521.73 1521.49,522.42 1525.85,523.11 1530.21,523.79 1534.56,524.47 1538.92,525.15 1543.28,525.82 1547.63,526.5 1551.99,527.17 1556.34,527.84 1560.7,528.51 1565.06,529.17 1569.41,529.83 1573.77,530.5 1578.12,531.16 1582.48,531.81 1586.84,532.47 1591.19,533.13 1595.55,533.78 1599.91,534.44 1604.26,535.09 1608.62,535.74 1612.97,536.4 1617.33,537.05 1621.69,537.7 1626.04,538.35 1630.4,539"/>
<polyline fill="none" stroke="#007800" stroke-width="4.0" stroke-linejoin="round" points="933.4,56.7 937.76,58.41 942.11,60.11 946.47,61.82 950.82,63.52 955.18,65.23 959.54,66.92 963.89,68.62 968.25,70.31 972.61,72 976.96,73.68 981.32,75.36 985.67,77.03 990.03,78.7 994.39,80.36 998.74,82.01 1003.1,83.65 1007.46,85.29 1011.81,86.91 1016.17,88.53 1020.52,90.13 1024.88,91.73 1029.24,93.31 1033.59,94.89 1037.95,96.45 1042.31,97.99 1046.66,99.53 1051.02,101.05 1055.38,102.55 1059.73,104.04 1064.09,105.52 1068.44,106.98 1072.8,108.42 1077.16,109.84 1081.51,111.25 1085.87,112.64 1090.22,114.01 1094.58,115.37 1098.94,116.7 1103.29,118.01 1107.65,119.3 1112.01,120.57 1116.36,121.82 1120.72,123.05 1125.08,124.25 1129.43,125.44 1133.79,126.61 1138.14,127.76 1142.5,128.89 1146.86,130 1151.21,131.09 1155.57,132.16 1159.92,133.22 1164.28,134.25 1168.64,135.27 1172.99,136.28 1177.35,137.26 1181.71,138.23 1186.06,139.19 1190.42,140.13 1194.78,141.05 1199.13,141.95 1203.49,142.85 1207.84,143.72 1212.2,144.59 1216.56,145.44 1220.91,146.27 1225.27,147.09 1229.62,147.9 1233.98,148.7 1238.34,149.48 1242.69,150.25 1247.05,151.01 1251.41,151.76 1255.76,152.5 1260.12,153.22 1264.47,153.94 1268.83,154.64 1273.19,155.34 1277.54,156.02 1281.9,156.7 1286.26,157.37 1290.61,158.02 1294.97,158.67 1299.33,159.31 1303.68,159.94 1308.04,160.57 1312.39,161.18 1316.75,161.79 1321.11,162.39 1325.46,162.99 1329.82,163.57 1334.17,164.15 1338.53,164.72 1342.89,165.29 1347.24,165.85 1351.6,166.4 1355.96,166.94 1360.31,167.49 1364.67,168.02 1369.03,168.55 1373.38,169.08 1377.74,169.59 1382.09,170.11 1386.45,170.62 1390.81,171.12 1395.16,171.63 1399.52,172.12 1403.88,172.62 1408.23,173.11 1412.59,173.59 1416.94,174.07 1421.3,174.55 1425.66,175.03 1430.01,175.5 1434.37,175.97 1438.72,176.44 1443.08,176.91 1447.44,177.38 1451.79,177.84 1456.15,178.3 1460.51,178.76 1464.86,179.22 1469.22,179.68 1473.58,180.13 1477.93,180.59 1482.29,181.04 1486.64,181.49 1491,181.95 1495.36,182.4 1499.71,182.85 1504.07,183.29 1508.43,183.74 1512.78,184.19 1517.14,184.63 1521.49,185.08 1525.85,185.52 1530.21,185.96 1534.56,186.41 1538.92,186.85 1543.28,187.29 1547.63,187.73 1551.99,188.17 1556.34,188.6 1560.7,189.04 1565.06,189.48 1569.41,189.92 1573.77,190.35 1578.12,190.79 1582.48,191.23 1586.84,191.66 1591.19,192.1 1595.55,192.53 1599.91,192.96 1604.26,193.4 1608.62,193.83 1612.97,194.27 1617.33,194.7 1621.69,195.13 1626.04,195.57 1630.4,196"/>
<rect x="1480.1" y="195.1" width="138.5" height="179.6" fill="#ffffff" stroke="#000" stroke-width="1.4"/>
<line x1="1484.9" y1="214.7" x2="1547.9" y2="214.7" stroke="#000000" stroke-width="4.0" stroke-linecap="round"/>
<text x="1554.4" y="222.7" font-size="21.4" textLength="60.8" lengthAdjust="spacingAndGlyphs">QJ2-1</text>
<line x1="1484.9" y1="250.4" x2="1547.9" y2="250.4" stroke="#e60000" stroke-width="4.0" stroke-linecap="round"/>
<text x="1554.4" y="258.4" font-size="21.4" textLength="60.8" lengthAdjust="spacingAndGlyphs">QJ2-2</text>
<line x1="1484.9" y1="285.6" x2="1547.9" y2="285.6" stroke="#0000f5" stroke-width="4.0" stroke-linecap="round"/>
<text x="1554.4" y="293.6" font-size="21.4" textLength="60.8" lengthAdjust="spacingAndGlyphs">QJ2-3</text>
<line x1="1484.9" y1="321.1" x2="1547.9" y2="321.1" stroke="#f500f5" stroke-width="4.0" stroke-linecap="round"/>
<text x="1554.4" y="329.1" font-size="21.4" textLength="60.8" lengthAdjust="spacingAndGlyphs">QJ2-4</text>
<line x1="1484.9" y1="355.9" x2="1547.9" y2="355.9" stroke="#007800" stroke-width="4.0" stroke-linecap="round"/>
<text x="1554.4" y="363.9" font-size="21.4" textLength="60.8" lengthAdjust="spacingAndGlyphs">QJ2-5</text>
<text y="639.3" font-size="27.2"><tspan x="1147.6" textLength="89.71" lengthAdjust="spacingAndGlyphs">Vertical</tspan> <tspan x="1244.26" textLength="103.55" lengthAdjust="spacingAndGlyphs">pressure</tspan> <tspan x="1355.06" textLength="61.24" lengthAdjust="spacingAndGlyphs">(KPa)</tspan></text>
<text transform="translate(863 314.8) rotate(-90)" y="0" font-size="27.2"><tspan x="-0.3" textLength="53.8" lengthAdjust="spacingAndGlyphs">Void</tspan> <tspan x="57.3" textLength="59.2" lengthAdjust="spacingAndGlyphs">ratio</tspan></text>
<text x="938.2" y="558.8" font-size="40.5" textLength="49.6" lengthAdjust="spacingAndGlyphs">(b)</text>
</g>
</svg></body></html>
